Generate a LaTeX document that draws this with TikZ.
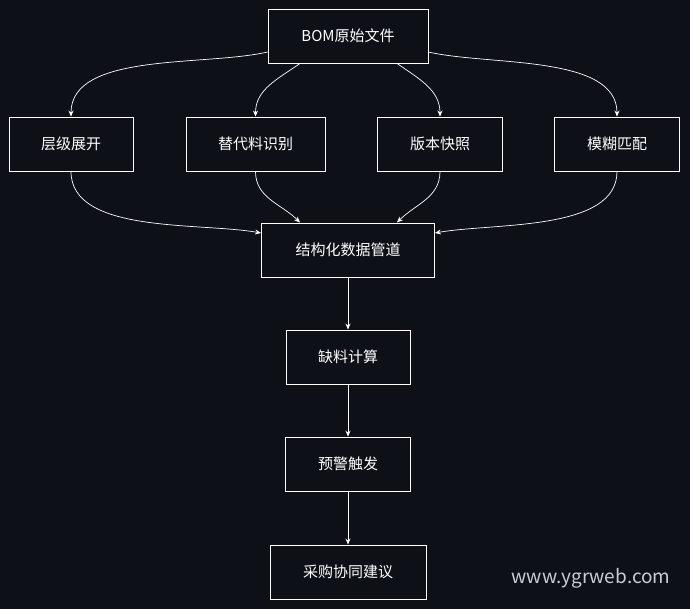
\documentclass[tikz,border=0pt]{standalone}
\usepackage{fontspec}
\setmainfont{Noto Sans CJK SC}
\usetikzlibrary{calc, arrows.meta}
\definecolor{bgdark}{HTML}{0D1117}
\definecolor{mark}{HTML}{C9CDD3}
\tikzset{
  box/.style={draw=white, line width=0.9pt, text=white, minimum height=54pt, font=\fontsize{15}{17}\selectfont},
  flow/.style={draw=white, line width=0.7pt, -{Stealth[length=6pt,width=5pt]}}
}

\begin{document}
\begin{tikzpicture}[x=1pt,y=-1pt]
  % background and bounds
  \fill[bgdark] (0,0) rectangle (690,609);
  \useasboundingbox (0,0) rectangle (690,609);

  % nodes
  \node[box, minimum width=160pt] (bom) at (348,36) {BOM原始文件};
  \node[box, minimum width=124pt] (level) at (71,144) {层级展开};
  \node[box, minimum width=139pt] (subst) at (255.5,144) {替代料识别};
  \node[box, minimum width=125pt] (snap) at (440,144) {版本快照};
  \node[box, minimum width=125pt] (fuzzy) at (617,144) {模糊匹配};
  \node[box, minimum width=173pt] (pipe) at (348,250) {结构化数据管道};
  \node[box, minimum width=124pt] (calc) at (348,357) {缺料计算};
  \node[box, minimum width=125pt] (alarm) at (348,464) {预警触发};
  \node[box, minimum width=156pt] (buy) at (348,572) {采购协同建议};

  % watermark
  \node[text=mark, font=\fontsize{19}{21}\selectfont] (wm) at (591,578) {www.ygrweb.com};

  % fan out
  \draw[flow] ($(bom.west)+(0,16)$) to[out=193, in=90, looseness=0.8] (level.north);
  \draw[flow] ($(bom.south)+(-48,0)$) to[out=215, in=90] (subst.north);
  \draw[flow] ($(bom.south)+(49,0)$) to[out=-35, in=90] (snap.north);
  \draw[flow] ($(bom.east)+(0,16)$) to[out=-13, in=90, looseness=0.8] (fuzzy.north);

  % fan in
  \draw[flow] (level.south) to[out=-90, in=170, looseness=0.8] ($(pipe.west)+(0,-17)$);
  \draw[flow] (subst.south) to[out=-90, in=135] ($(pipe.north)+(-48,0)$);
  \draw[flow] (snap.south) to[out=-90, in=45] ($(pipe.north)+(49,0)$);
  \draw[flow] (fuzzy.south) to[out=-90, in=10, looseness=0.8] ($(pipe.east)+(0,-17)$);

  % chain
  \draw[flow] (pipe) -- (calc);
  \draw[flow] (calc) -- (alarm);
  \draw[flow] (alarm) -- (buy);
\end{tikzpicture}
\end{document}
